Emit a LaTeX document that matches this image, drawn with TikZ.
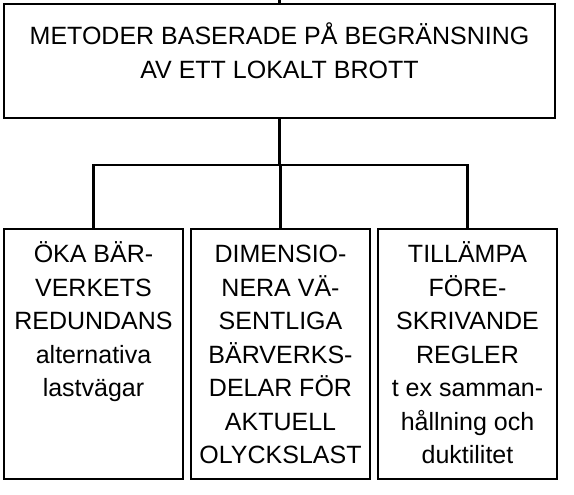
\documentclass[tikz,border=0pt]{standalone}
\usepackage{fontspec}
\setmainfont{Liberation Sans}
\usetikzlibrary{positioning}
\newcommand{\boxtext}[3]{\parbox[c][#1][t]{#2}{\centering\strut #3}}

\begin{document}
\begin{tikzpicture}[
  x=1pt, y=-1pt,
  box/.style={draw,line width=2.8pt,outer sep=0pt,inner xsep=0pt,inner ysep=10.5pt,
    font=\fontsize{25pt}{33.5pt}\selectfont},
  link/.style={line width=2.8pt},
  node distance=8pt
]
  \useasboundingbox (0,0) rectangle (574,495);

  \node[box,inner ysep=17.5pt] (top) at (279.5,61)
    {\boxtext{79pt}{551pt}{METODER BASERADE PÅ BEGRÄNSNING\\AV ETT LOKALT BROTT}};

  \node[box] (redund) at (93.5,354)
    {\boxtext{229pt}{179pt}{ÖKA BÄR-\\VERKETS\\REDUNDANS\\alternativa\\lastvägar}};
  \node[box, right=of redund] (dimens)
    {\boxtext{229pt}{179pt}{DIMENSIO-\\NERA VÄ-\\SENTLIGA\\BÄRVERKS-\\DELAR FÖR\\AKTUELL\\OLYCKSLAST}};
  \node[box, right=of dimens] (tillamp)
    {\boxtext{229pt}{179pt}{TILLÄMPA\\FÖRE-\\SKRIVANDE\\REGLER\\t ex samman-\\hållning och\\duktilitet}};

  \coordinate (entry) at (280,0);
  \coordinate (bus) at (0,165);

  \draw[link] (top.north) -- (top.north |- entry);
  \draw[link] (top.south) -- (top.south |- bus);
  \draw[link] (redund.north) -- (redund.north |- bus) -- (tillamp.north |- bus) -- (tillamp.north);
  \draw[link] (dimens.north) -- (dimens.north |- bus);
\end{tikzpicture}
\end{document}
